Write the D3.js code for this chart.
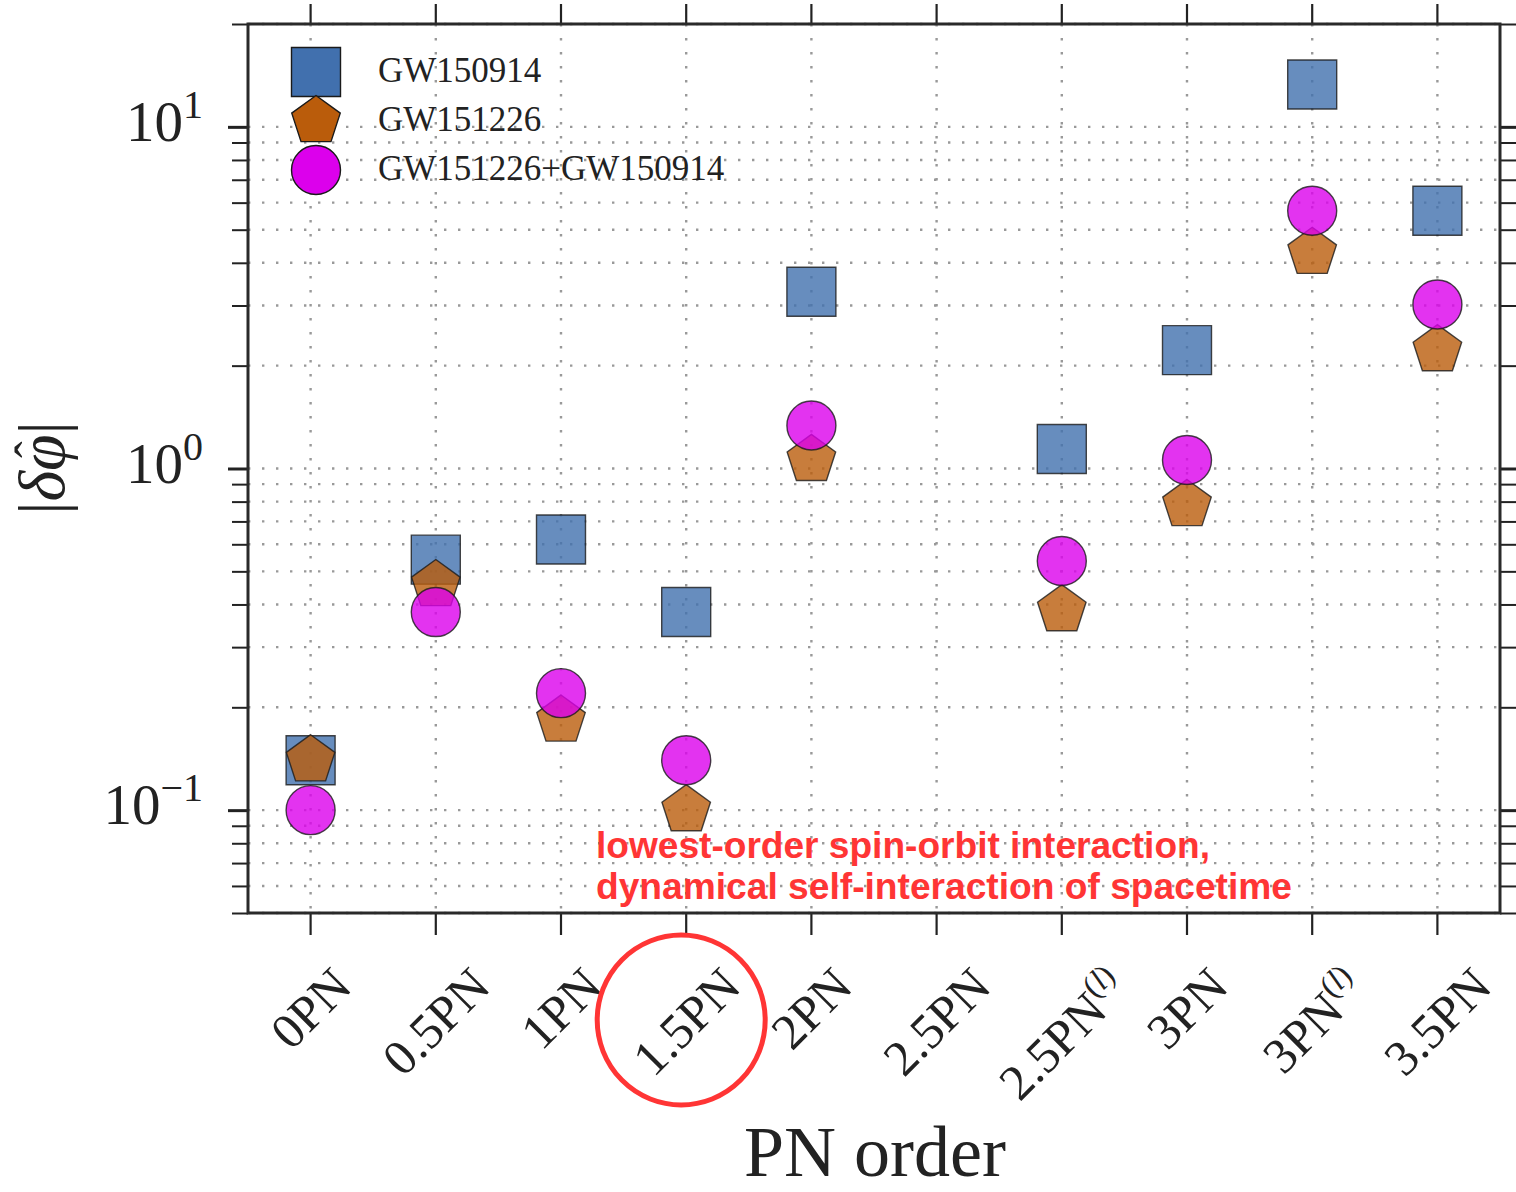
<!DOCTYPE html>
<html>
<head>
<meta charset="utf-8">
<script src="https://cdn.jsdelivr.net/npm/d3@7"></script>
<style>
  html, body { margin: 0; padding: 0; background: #fff; }
  svg { display: block; }
</style>
</head>
<body>
<svg id="chart" width="1516" height="1192"></svg>
<script>
// PN coefficient deviations per post-Newtonian order
const categories = ["0PN", "0.5PN", "1PN", "1.5PN", "2PN", "2.5PN", "2.5PN(l)", "3PN", "3PN(l)", "3.5PN"];
const gw150914 = [0.140, 0.541, 0.620, 0.380, 3.29, null, 1.14, 2.22, 13.3, 5.68];
const gw151226 = [0.140, 0.456, 0.183, 0.100, 1.06, null, 0.385, 0.782, 4.28, 2.22];
const combined = [0.100, 0.380, 0.220, 0.140, 1.336, null, 0.536, 1.059, 5.68, 3.02];
const seriesNames = ["GW150914", "GW151226", "GW151226+GW150914"];
const yMajorTicks = [0.1, 1, 10];
const yTickExponents = ["\u22121", "0", "1"];
const annotationLines = ["lowest-order spin-orbit interaction,", "dynamical self-interaction of spacetime"];

const W = 1516, H = 1192;
const plotLeft = 248, plotRight = 1500, plotTop = 24, plotBottom = 913;
const svg = d3.select("#chart");
svg.append("rect").attr("width", W).attr("height", H).attr("fill", "#fff");

const x = d3.scaleBand().domain(categories).range([plotLeft, plotRight]);
const cx = c => x(c) + x.bandwidth() / 2;
const y = d3.scaleLog().domain([0.05, 20]).range([plotBottom, plotTop]);

const serif = "'Liberation Serif', 'DejaVu Serif', serif";
const ink = "#222";

// minor + major tick values for the log axis
const allYTicks = [];
[0.01, 0.1, 1, 10].forEach(d => {
  for (let k = 1; k <= 9; k++) {
    const v = +(d * k).toPrecision(3);
    if (v >= 0.05 && v <= 20) allYTicks.push(v);
  }
});
const minorYTicks = allYTicks.filter(v => !yMajorTicks.includes(v));

// dotted grid
const grid = svg.append("g").attr("stroke", "#999").attr("stroke-width", 2.4)
  .attr("stroke-dasharray", "2.4,11.6");
grid.selectAll("line.h").data(allYTicks).join("line").attr("class", "h")
  .attr("x1", plotLeft).attr("x2", plotRight)
  .attr("y1", d => y(d)).attr("y2", d => y(d));
grid.selectAll("line.v").data(categories).join("line").attr("class", "v")
  .attr("x1", cx).attr("x2", cx)
  .attr("y1", plotTop).attr("y2", plotBottom);

// axes: ticks outward on all four sides
function styleAxis(g, w) {
  g.select(".domain").remove();
  g.selectAll(".tick line").attr("stroke", ink).attr("stroke-width", w);
}
svg.append("g").attr("transform", `translate(${plotLeft},0)`)
  .call(d3.axisLeft(y).tickValues(minorYTicks).tickSize(16).tickFormat("")).call(g => styleAxis(g, 2));
svg.append("g").attr("transform", `translate(${plotLeft},0)`)
  .call(d3.axisLeft(y).tickValues(yMajorTicks).tickSize(20).tickFormat("")).call(g => styleAxis(g, 3));
svg.append("g").attr("transform", `translate(${plotRight},0)`)
  .call(d3.axisRight(y).tickValues(minorYTicks).tickSize(16).tickFormat("")).call(g => styleAxis(g, 2));
svg.append("g").attr("transform", `translate(${plotRight},0)`)
  .call(d3.axisRight(y).tickValues(yMajorTicks).tickSize(20).tickFormat("")).call(g => styleAxis(g, 3));
svg.append("g").attr("transform", `translate(0,${plotBottom})`)
  .call(d3.axisBottom(x).tickSize(22).tickFormat("")).call(g => styleAxis(g, 2.2));
svg.append("g").attr("transform", `translate(0,${plotTop})`)
  .call(d3.axisTop(x).tickSize(20).tickFormat("")).call(g => styleAxis(g, 2.2));

// frame
svg.append("rect").attr("x", plotLeft).attr("y", plotTop)
  .attr("width", plotRight - plotLeft).attr("height", plotBottom - plotTop)
  .attr("fill", "none").attr("stroke", "#2a2a2a").attr("stroke-width", 3);

// marker shapes
function pentagonPath(r) {
  const pts = d3.range(5).map(k => {
    const a = (-90 + k * 72) * Math.PI / 180;
    return [r * Math.cos(a), r * Math.sin(a)];
  });
  return "M" + pts.map(p => p.join(",")).join("L") + "Z";
}
const shapes = [
  { values: gw150914, fill: "#4170ae", path: "M-24.5,-24.5H24.5V24.5H-24.5Z" },
  { values: gw151226, fill: "#ba5c0b", path: pentagonPath(25.5) },
  { values: combined, fill: "#dc00ec", path: d3.arc()({ innerRadius: 0, outerRadius: 24.5, startAngle: 0, endAngle: 2 * Math.PI }) }
];

const marks = svg.append("g");
shapes.forEach(s => {
  const pts = categories.map((c, i) => ({ c, v: s.values[i] })).filter(d => d.v != null);
  marks.append("g").selectAll("path").data(pts).join("path")
    .attr("d", s.path)
    .attr("transform", d => `translate(${cx(d.c)},${y(d.v)})`)
    .attr("fill", s.fill).attr("fill-opacity", 0.8)
    .attr("stroke", "#1a1a1a").attr("stroke-opacity", 0.8).attr("stroke-width", 1.4);
});

// legend
const legend = svg.append("g");
const legendY = [72, 121, 170];
shapes.forEach((s, i) => {
  legend.append("path").attr("d", s.path)
    .attr("transform", `translate(316,${legendY[i]})`)
    .attr("fill", s.fill).attr("stroke", "#1a1a1a").attr("stroke-width", 1.4);
  legend.append("text").attr("x", 378).attr("y", legendY[i] + 10)
    .attr("font-family", serif).attr("font-size", 35).attr("fill", ink)
    .text(seriesNames[i]);
});

// y tick labels, 10^n
yMajorTicks.forEach((v, i) => {
  const t = svg.append("text").attr("x", 203).attr("y", y(v) + 14)
    .attr("text-anchor", "end").attr("font-family", serif).attr("fill", ink);
  t.append("tspan").attr("font-size", 57).text("10");
  t.append("tspan").attr("font-size", 40).attr("dy", -23).text(yTickExponents[i]);
});

// x tick labels, rotated 45 degrees, centred under each tick
categories.forEach(c => {
  const m = c.match(/^(.*?)(\(l\))?$/);
  const g = svg.append("g");
  const t = g.append("text").attr("font-family", serif).attr("font-size", 50).attr("fill", ink)
    .attr("transform", "rotate(-45)");
  t.append("tspan").text(m[1]);
  if (m[2]) {
    const sup = t.append("tspan").attr("font-size", 32).attr("dy", -20);
    sup.append("tspan").text("(");
    sup.append("tspan").attr("font-style", "italic").text("l");
    sup.append("tspan").text(")");
  }
  const b = g.node().getBBox();
  g.attr("transform", `translate(${cx(c) - (b.x + b.width / 2)},${957 - b.y})`);
});

// axis titles
svg.append("text").attr("x", 875).attr("y", 1176).attr("text-anchor", "middle")
  .attr("font-family", serif).attr("font-size", 72).attr("fill", ink).text("PN order");

const ylg = svg.append("g").attr("transform", "translate(64,468) rotate(-90)");
const yl = ylg.append("text").attr("text-anchor", "middle")
  .attr("font-family", serif).attr("font-size", 66).attr("fill", ink);
yl.append("tspan").text("|");
yl.append("tspan").attr("font-style", "italic").text("\u03b4\u03c6");
yl.append("tspan").text("|");
// hat over the phi
const phiBox = yl.node().getExtentOfChar(2);
ylg.append("text").attr("x", phiBox.x + phiBox.width * 0.58).attr("y", phiBox.y + phiBox.height * 0.62)
  .attr("text-anchor", "middle").attr("font-family", serif).attr("font-size", 50)
  .attr("fill", ink).text("\u02c6");

// annotation for the 1.5PN order
const red = "#ff3535";
svg.append("ellipse").attr("cx", cx("1.5PN") - 5).attr("cy", 1020).attr("rx", 84).attr("ry", 85)
  .attr("fill", "none").attr("stroke", red).attr("stroke-width", 5);
const ann = svg.append("g").attr("font-family", "'Liberation Sans', Arial, sans-serif")
  .attr("font-weight", "bold").attr("font-size", 36).attr("fill", red);
ann.append("text").attr("x", 596).attr("y", 858).attr("textLength", 614)
  .attr("lengthAdjust", "spacingAndGlyphs").text(annotationLines[0]);
ann.append("text").attr("x", 596).attr("y", 899).attr("textLength", 696)
  .attr("lengthAdjust", "spacingAndGlyphs").text(annotationLines[1]);
</script>
</body>
</html>
